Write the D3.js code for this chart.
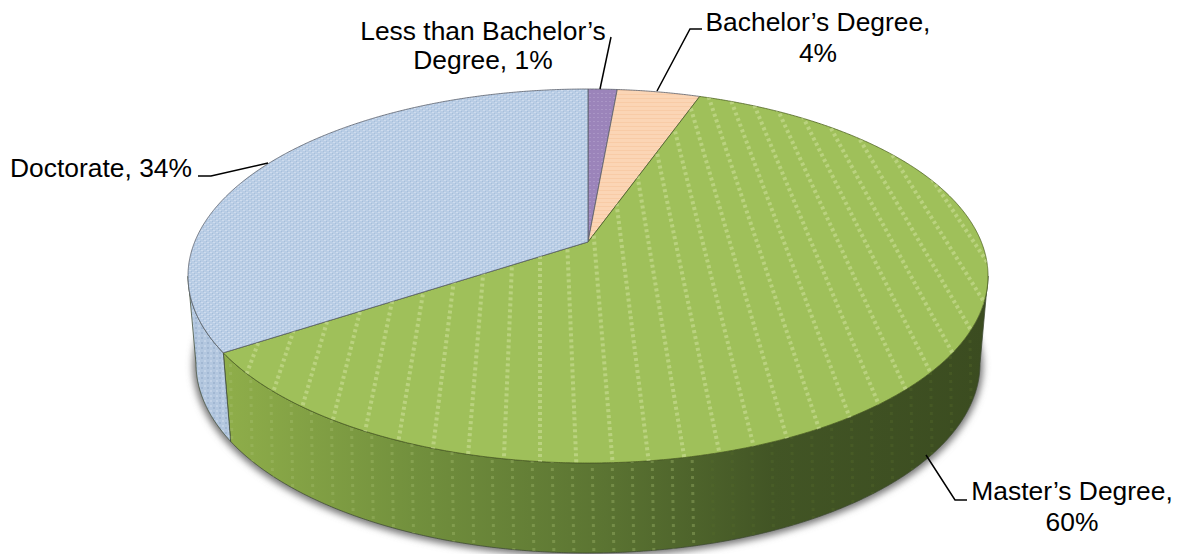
<!DOCTYPE html>
<html>
<head>
<meta charset="utf-8">
<script src="https://cdn.jsdelivr.net/npm/d3@7"></script>
<style>
  html, body { margin: 0; padding: 0; background: #fff; overflow: hidden; }
  text { font-family: "Liberation Sans", Arial, sans-serif; font-size: 26.4px; fill: #000; }
</style>
</head>
<body>
<div id="pie"></div>
<script>
// values (labels round them)
var categories = ["Less than Bachelor’s Degree", "Bachelor’s Degree", "Master’s Degree", "Doctorate"];
var shares = [1.4, 4.0, 60.3, 34.3];
var topColors = ["#9b84ba", "#fbd3b2", "#9fc05a", "#b9cde5"];
var labelBreaks = [["Less than Bachelor’s", "Degree, "], ["Bachelor’s Degree,", ""], ["Master’s Degree,", ""], ["Doctorate, "]];

var svgWidth = 1188;
var svgHeight = 554;

var svg = d3.select("#pie")
  .append("svg")
  .attr("width", svgWidth)
  .attr("height", svgHeight)
  .style("display", "block");

// unit disc -> top face and bottom rim of the tilted pie
var xTop = d3.scaleLinear().domain([-1, 1]).range([188, 988]);
var yTop = d3.scaleLinear().domain([-1, 1]).range([89, 463]);
var xBottom = d3.scaleLinear().domain([-1, 1]).range([196, 980]);
var yBottom = d3.scaleLinear().domain([-1, 1]).range([174, 553]);

// perspective moves the apex up from the middle of the ellipse
var tilt = -0.182;
function project(angle) {
  var x = Math.sin(angle), y = -Math.cos(angle);
  var w = 1 + tilt * y;
  return [x * Math.sqrt(1 - tilt * tilt) / w, (y + tilt) / w];
}

var pie = d3.pie().value(d => d).sort(null);
var slices = pie(shares);

function arcPoints(s) {
  var n = Math.max(4, Math.round((s.endAngle - s.startAngle) * 200));
  return d3.range(n + 1).map(i => project(s.startAngle + (s.endAngle - s.startAngle) * i / n));
}

var line = d3.line();
function topPoint(p) { return [xTop(p[0]), yTop(p[1])]; }
function bottomPoint(p) { return [xBottom(p[0]), yBottom(p[1])]; }

var defs = svg.append("defs");

defs.append("filter").attr("id", "blur")
  .attr("x", "-10%").attr("y", "-10%").attr("width", "120%").attr("height", "120%")
  .append("feGaussianBlur").attr("stdDeviation", 3.5);

defs.append("filter").attr("id", "soften")
  .append("feGaussianBlur").attr("stdDeviation", 0.7);

var greenWall = defs.append("linearGradient").attr("id", "greenWall")
  .attr("gradientUnits", "userSpaceOnUse")
  .attr("x1", 223).attr("x2", 985).attr("y1", 0).attr("y2", 0);
greenWall.append("stop").attr("offset", "0").attr("stop-color", "#8fae4a");
greenWall.append("stop").attr("offset", "0.25").attr("stop-color", "#72903d");
greenWall.append("stop").attr("offset", "0.5").attr("stop-color", "#5b7432");
greenWall.append("stop").attr("offset", "0.72").attr("stop-color", "#425525");
greenWall.append("stop").attr("offset", "1").attr("stop-color", "#3b4c20");

// woven texture on the blue slice
var weave = defs.append("pattern").attr("id", "weave")
  .attr("patternUnits", "userSpaceOnUse").attr("width", 6).attr("height", 4);
weave.append("rect").attr("width", 6).attr("height", 4).attr("fill", "#b9cde5");
weave.append("rect").attr("x", 0).attr("y", 0).attr("width", 2).attr("height", 1).attr("fill", "#cfdcee");
weave.append("rect").attr("x", 3).attr("y", 2).attr("width", 2).attr("height", 1).attr("fill", "#cfdcee");
weave.append("rect").attr("x", 2).attr("y", 1).attr("width", 1).attr("height", 1).attr("fill", "#a6bedb");
weave.append("rect").attr("x", 5).attr("y", 3).attr("width", 1).attr("height", 1).attr("fill", "#a6bedb");

var weaveWall = defs.append("pattern").attr("id", "weaveWall")
  .attr("patternUnits", "userSpaceOnUse").attr("width", 6).attr("height", 5);
weaveWall.append("rect").attr("width", 6).attr("height", 5).attr("fill", "#b3c7df");
weaveWall.append("rect").attr("x", 0).attr("y", 0).attr("width", 2).attr("height", 2).attr("fill", "#c3d3e7");
weaveWall.append("rect").attr("x", 3).attr("y", 2).attr("width", 2).attr("height", 2).attr("fill", "#a2b8d3");

// fine horizontal lines on the peach slice
var lines = defs.append("pattern").attr("id", "peachLines")
  .attr("patternUnits", "userSpaceOnUse").attr("width", 4).attr("height", 4);
lines.append("rect").attr("width", 4).attr("height", 4).attr("fill", "#fbd5b5");
lines.append("rect").attr("y", 2).attr("width", 4).attr("height", 1).attr("fill", "#f8cba6");

var purple = defs.append("pattern").attr("id", "purpleDots")
  .attr("patternUnits", "userSpaceOnUse").attr("width", 4).attr("height", 4);
purple.append("rect").attr("width", 4).attr("height", 4).attr("fill", "#9b84ba");
purple.append("rect").attr("x", 1).attr("y", 1).attr("width", 2).attr("height", 1).attr("fill", "#a995c5");

var topFills = ["url(#purpleDots)", "url(#peachLines)", topColors[2], "url(#weave)"];

// soft shadow under the pie
svg.append("ellipse")
  .attr("cx", xBottom(0)).attr("cy", yBottom(0) + 2)
  .attr("rx", (xBottom(1) - xBottom(-1)) / 2 + 3).attr("ry", (yBottom(1) - yBottom(-1)) / 2 + 2)
  .attr("fill", "#777")
  .attr("filter", "url(#blur)");

// walls: only the part of each rim that faces the viewer
var wallFills = [null, null, "url(#greenWall)", "url(#weaveWall)"];
var wallPaths = [];
slices.forEach(function(s, i) {
  if (!wallFills[i]) { wallPaths.push(null); return; }
  var pts = arcPoints(s).filter(p => p[1] >= 0);
  var path = line(pts.map(topPoint).concat(pts.slice().reverse().map(bottomPoint))) + "Z";
  wallPaths.push(path);
});

svg.append("g").selectAll("path")
  .data(slices.filter((s, i) => wallPaths[i]))
  .enter()
  .append("path")
  .attr("d", d => wallPaths[d.index])
  .attr("fill", d => wallFills[d.index])
  .attr("stroke", "#3d4a33")
  .attr("stroke-opacity", 0.75)
  .attr("stroke-width", 1);

// top face
var apex = topPoint([0, tilt]);
function slicePath(s) {
  return line([apex].concat(arcPoints(s).map(topPoint))) + "Z";
}

defs.append("clipPath").attr("id", "greenClip").append("path").attr("d", slicePath(slices[2]));
defs.append("clipPath").attr("id", "wallClip").append("path").attr("d", wallPaths[2]);

svg.append("g").selectAll("path")
  .data(slices)
  .enter()
  .append("path")
  .attr("d", slicePath)
  .attr("fill", (d, i) => topFills[i])
  .attr("stroke", (d, i) => i == 2 ? "#4f6322" : "#5a5f6a")
  .attr("stroke-opacity", 0.8)
  .attr("stroke-width", 1);

// light dashed stripes of the green slice, fanning out from a far point
var vanish = [540, -410];
var stripes = svg.append("g").attr("clip-path", "url(#greenClip)")
  .append("g").attr("filter", "url(#soften)");
d3.range(-24, 25).forEach(function(k) {
  stripes.append("line")
    .attr("x1", vanish[0]).attr("y1", vanish[1])
    .attr("x2", vanish[0] + k * 42).attr("y2", 600)
    .attr("stroke", "#cfe29d")
    .attr("stroke-opacity", 0.55)
    .attr("stroke-width", 4)
    .attr("stroke-dasharray", "3 3");
});

var wallStripes = svg.append("g").attr("clip-path", "url(#wallClip)")
  .append("g").attr("filter", "url(#soften)");
d3.range(230, 980, 20).forEach(function(x) {
  wallStripes.append("line")
    .attr("x1", x).attr("y1", 340)
    .attr("x2", x + 4).attr("y2", 560)
    .attr("stroke", x < 700 ? "#a9bf74" : "#55692e")
    .attr("stroke-opacity", 0.35)
    .attr("stroke-width", 3)
    .attr("stroke-dasharray", "3 5");
});

// leader lines
var leaders = [
  [[600, 89], [611, 37]],
  [[657, 91], [690, 29], [702, 29]],
  [[926, 455], [955, 500], [967, 500]],
  [[268, 163], [211, 176], [198, 176]]
];
svg.append("g").selectAll("path")
  .data(leaders)
  .enter()
  .append("path")
  .attr("d", d => line(d))
  .attr("fill", "none")
  .attr("stroke", "#000")
  .attr("stroke-width", 1.5);

// labels
var labelSpots = [
  { x: 483, y: [40, 69] },
  { x: 818, y: [31, 62] },
  { x: 1072, y: [500, 531] },
  { x: 101, y: [177] }
];
var labelGroup = svg.append("g").attr("text-anchor", "middle");
slices.forEach(function(s, i) {
  var pct = Math.round(shares[i]) + "%";
  labelBreaks[i].forEach(function(part, j) {
    var isLast = j == labelBreaks[i].length - 1;
    labelGroup.append("text")
      .attr("x", labelSpots[i].x)
      .attr("y", labelSpots[i].y[j])
      .text(isLast ? part + pct : part);
  });
});
</script>
</body>
</html>
